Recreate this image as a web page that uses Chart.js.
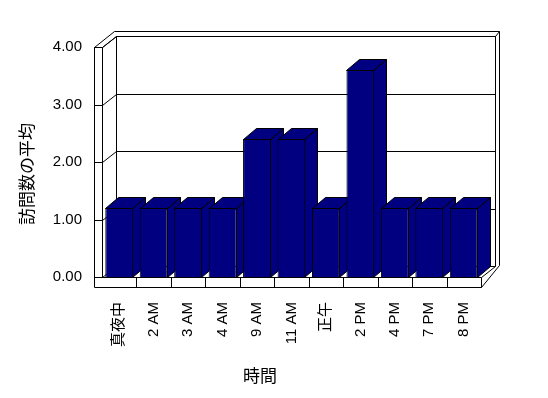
<!DOCTYPE html>
<html>
<head>
<meta charset="utf-8">
<script src="https://cdn.jsdelivr.net/npm/chart.js@4.4.0/dist/chart.umd.min.js"></script>
<style>
  html, body { margin: 0; padding: 0; background: #fff; }
</style>
</head>
<body>
<canvas id="visits" width="548" height="398"></canvas>
<script>
// chart data
var hourLabels = ['真夜中', '2 AM', '3 AM', '4 AM', '9 AM', '11 AM', '正午', '2 PM', '4 PM', '7 PM', '8 PM'];
var avgVisits = [1.2, 1.2, 1.2, 1.2, 2.4, 2.4, 1.2, 3.6, 1.2, 1.2, 1.2];
var yTicks = [0, 1, 2, 3, 4];
var xTitle = '時間';
var yTitle = '訪問数の平均';

var navy = '#000080';
var depthX = 14, depthY = -11;   // oblique depth of the 3d box

function line(ctx, x0, y0, x1, y1) {
    ctx.beginPath();
    ctx.moveTo(x0, y0);
    ctx.lineTo(x1, y1);
    ctx.stroke();
}

function poly(ctx, pts, fill) {
    ctx.beginPath();
    ctx.moveTo(pts[0][0], pts[0][1]);
    for (var i = 1; i < pts.length; i++) ctx.lineTo(pts[i][0], pts[i][1]);
    ctx.closePath();
    ctx.fillStyle = fill;
    ctx.fill();
    ctx.stroke();
}

/**
 * Draws the walls, floor, grid and the top / side faces of the bars.
 * The front faces are left to Chart.js so they cover the faces behind.
 */
var box3d = {
    id: 'box3d',
    beforeDatasetsDraw: function(chart) {
        var ctx = chart.ctx;
        var a = chart.chartArea;
        var ys = chart.scales.y, xs = chart.scales.x;
        var L = Math.round(a.left) + 0.5, R = Math.round(a.right) + 0.5;
        var T = Math.round(ys.getPixelForValue(4)) + 0.5;
        var Z = Math.round(ys.getPixelForValue(0)) + 0.5;
        var dx = depthX, dy = depthY;

        ctx.save();
        ctx.lineWidth = 1;
        ctx.strokeStyle = '#000';

        // outer outline of the box
        poly(ctx, [[L - 8, T], [L + 12, T - 16], [R + 18, T - 16], [R + 18, Z - 12],
                   [R, Z + 10], [L - 8, Z + 10]], '#fff');

        // back wall
        line(ctx, L + dx, T + dy, R + dx, T + dy);
        line(ctx, L + dx, T + dy, L + dx, Z + dy);
        line(ctx, R + dx, T + dy, R + dx, Z + dy);
        line(ctx, R + dx, T + dy, R + 18, T - 16);

        // left wall
        line(ctx, L - 8, T, L, T);
        line(ctx, L, T, L, Z);
        line(ctx, L, T, L + dx, T + dy);

        // floor
        line(ctx, L, Z, R, Z);
        line(ctx, R, Z, R, Z + 10);
        line(ctx, R, Z, R + dx, Z + dy);
        for (var i = 1; i < hourLabels.length; i++) {
            var bx = Math.round((xs.getPixelForValue(i - 1) + xs.getPixelForValue(i)) / 2) + 0.5;
            line(ctx, bx, Z, bx, Z + 10);
        }

        // grid lines: tick on the wall front, diagonal on the wall, line on the back
        yTicks.forEach(function(v) {
            var y = Math.round(ys.getPixelForValue(v)) + 0.5;
            line(ctx, L - 8, y, L, y);
            line(ctx, L, y, L + dx, y + dy);
            line(ctx, L + dx, y + dy, R + dx, y + dy);
        });

        // top and side faces of the bars, left to right
        var bars = chart.getDatasetMeta(0).data;
        bars.forEach(function(bar) {
            var x0 = Math.round(bar.x - bar.width / 2) + 0.5;
            var x1 = Math.round(bar.x + bar.width / 2) - 0.5;
            var top = Math.round(bar.y) + 0.5;
            var base = Math.round(bar.base) + 0.5;
            poly(ctx, [[x1, top], [x1 + dx - 1, top + dy], [x1 + dx - 1, base + dy], [x1, base]], navy);
            poly(ctx, [[x0, top], [x1, top], [x1 + dx - 1, top + dy], [x0 + dx - 1, top + dy]], navy);
        });
        ctx.restore();
    },
    afterDraw: function(chart) {
        var ctx = chart.ctx;
        ctx.save();
        ctx.fillStyle = '#000';
        ctx.font = '17px "Noto Sans CJK JP"';
        ctx.textAlign = 'center';
        ctx.textBaseline = 'middle';
        ctx.fillText(xTitle, 260, 376);
        ctx.translate(27, 174);
        ctx.rotate(-Math.PI / 2);
        ctx.fillText(yTitle, 0, 0);
        ctx.restore();
    }
};

var tickFont = { family: '"Liberation Sans", "Noto Sans CJK JP", sans-serif', size: 15 };

new Chart(document.getElementById('visits').getContext('2d'), {
    type: 'bar',
    data: {
        labels: hourLabels,
        datasets: [{
            data: avgVisits,
            backgroundColor: navy,
            borderColor: '#000',
            borderWidth: 1,
            categoryPercentage: 1,
            barPercentage: 0.81
        }]
    },
    options: {
        responsive: false,
        animation: false,
        devicePixelRatio: 1,
        layout: { padding: { left: 0, right: 67, top: 47, bottom: 0 } },
        plugins: { legend: { display: false }, tooltip: { enabled: false } },
        scales: {
            x: {
                grid: { display: false, drawTicks: false },
                border: { display: false },
                ticks: { autoSkip: false, minRotation: 90, maxRotation: 90, padding: 25, color: '#000', font: tickFont },
                afterFit: function(s) { s.height = 121; }
            },
            y: {
                min: 0,
                max: 4,
                grid: { display: false, drawTicks: false },
                border: { display: false },
                ticks: {
                    stepSize: 1,
                    padding: 20,
                    color: '#000',
                    font: tickFont,
                    callback: function(v) { return v.toFixed(2); }
                },
                afterFit: function(s) { s.width = 102; }
            }
        }
    },
    plugins: [box3d]
});
</script>
</body>
</html>
